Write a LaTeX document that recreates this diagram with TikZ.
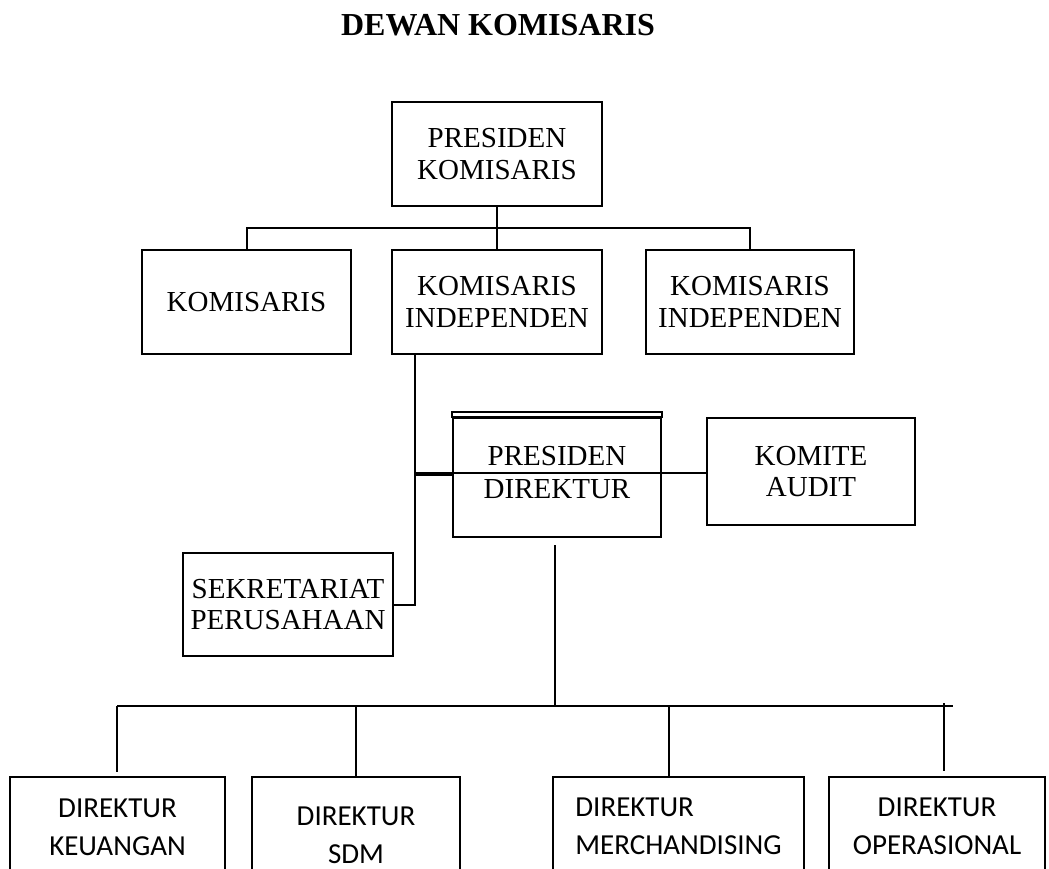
\documentclass[tikz,border=0pt]{standalone}
\usepackage{fontspec}
\setmainfont{Liberation Serif}
\newfontfamily\carlito{Carlito}
\begin{document}
\begin{tikzpicture}[x=1pt,y=-1pt,
  sbox/.style={draw, line width=2.3pt, inner sep=0pt, align=center, font=\fontsize{29}{31.5}\selectfont},
  stext/.style={inner sep=0pt, align=center, font=\fontsize{29}{32.5}\selectfont},
  dbox/.style={draw, line width=2.3pt, inner sep=0pt, align=center, font=\carlito\fontsize{29}{38}\selectfont},
  thickline/.style={line width=2pt},
  thinline/.style={line width=1.2pt}]
\useasboundingbox (0,0) rectangle (1049,869);
\clip (0,0) rectangle (1049,869);

\node[font=\bfseries\fontsize{32}{36}\selectfont] (title) at (498,25) {DEWAN KOMISARIS};

% dewan komisaris
\node[sbox, minimum width=210pt, minimum height=104pt] (pk) at (497,154) {PRESIDEN\\KOMISARIS};
\node[sbox, minimum width=209pt, minimum height=104pt] (kom) at (246.5,302) {KOMISARIS};
\node[sbox, minimum width=210pt, minimum height=104pt] (ki1) at (497,302) {KOMISARIS\\INDEPENDEN};
\node[sbox, minimum width=208pt, minimum height=104pt] (ki2) at (750,302) {KOMISARIS\\INDEPENDEN};

\coordinate (j1) at (497,228);
\draw[thickline] (pk.south) -- (j1);
\draw[thickline] (kom.north) |- (j1) -| (ki2.north);
\draw[thickline] (j1) -- (ki1.north);

% direksi
\node[sbox, minimum width=208pt, minimum height=119pt] (pd) at (557,477.5) {};
\node[stext] (pdt) at (557,472.5) {PRESIDEN\\DIREKTUR};
\draw[line width=2.3pt] ([yshift=5pt]pd.north west) rectangle (pd.north east);
\node[sbox, minimum width=208pt, minimum height=107pt] (ka) at (811,471.5) {KOMITE\\AUDIT};
\node[sbox, minimum width=210pt, minimum height=103pt] (sek) at (288,604.5) {SEKRETARIAT\\PERUSAHAAN};

\coordinate (v1) at ([xshift=-82pt]ki1.south);
\coordinate (j2) at (415,473);
\draw[thickline] (v1) |- (sek.east);
\draw[thickline] (j2) -- (j2 -| ka.west);
\draw[thickline] ([yshift=-2pt]j2) -- ([yshift=-2pt]j2 -| pd.west);

% direktur
\node[dbox, minimum width=215pt, minimum height=101pt] (keu) at (117.5,827.5) {DIREKTUR\\KEUANGAN};
\node[dbox, minimum width=208pt, minimum height=117pt] (sdm) at (356,835.5) {DIREKTUR\\SDM};
\node[dbox, align=left, minimum width=251pt, minimum height=99pt] (mer) at (678.5,826.5) {DIREKTUR\\MERCHANDISING};
\node[dbox, minimum width=216pt, minimum height=99pt] (ops) at (937,826.5) {DIREKTUR\\OPERASIONAL};

\coordinate (j3) at (555,706);
\coordinate (hl) at (117,706);
\coordinate (hr) at (953,706);
\draw[thinline] ([xshift=-2pt,yshift=-7pt]pd.south) -- (j3);
\draw[thinline] (hl) -- (hr);
\draw[thinline] (hl) -- ([yshift=4pt]keu.north -| hl);
\draw[thinline] (hl -| sdm.north) -- (sdm.north);
\draw[thinline] (hl -| 669,0) -- ([xshift=-9.5pt]mer.north);
\draw[thinline] (944,703) -- ([xshift=7pt,yshift=5pt]ops.north);
\end{tikzpicture}
\end{document}
